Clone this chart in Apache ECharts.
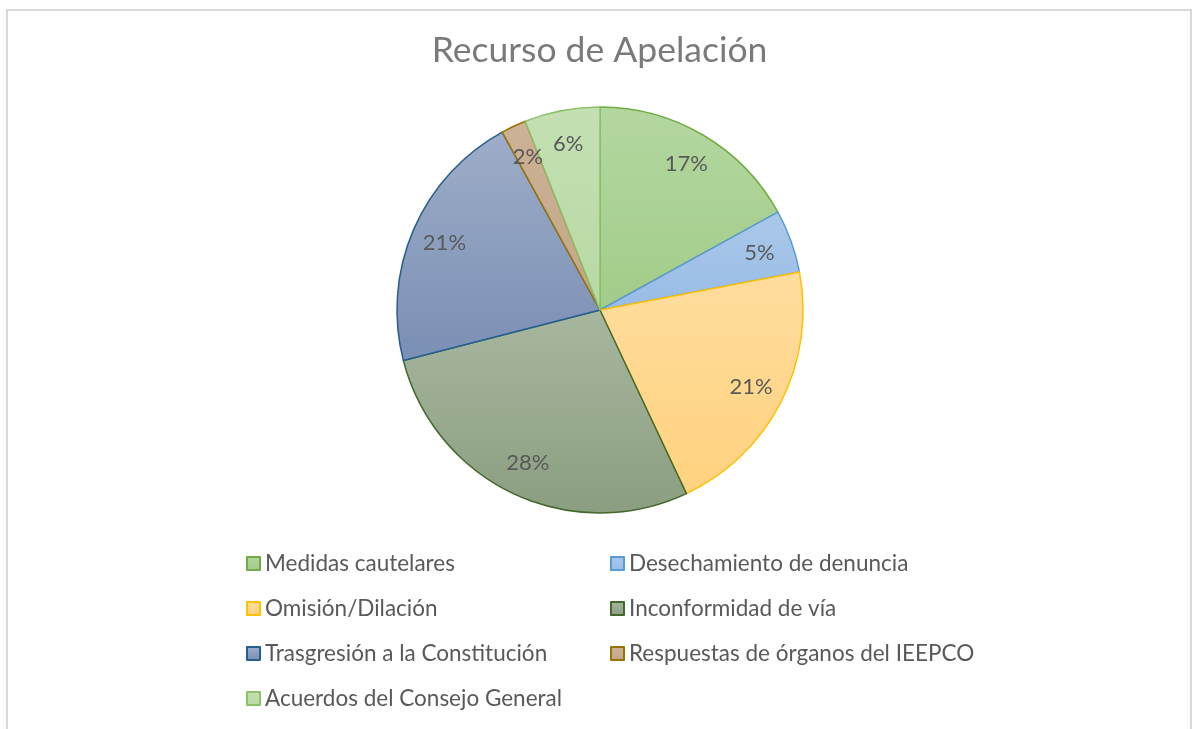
<!DOCTYPE html>
<html>
<head>
<meta charset="utf-8">
<script src="https://cdn.jsdelivr.net/npm/echarts@6/dist/echarts.min.js"></script>
<style>
html,body{margin:0;padding:0;background:#fff;}
#frame{position:absolute;left:6px;top:9px;width:1186px;height:740px;border:2px solid #d9d9d9;border-bottom:none;box-sizing:border-box;}
#chart{position:absolute;left:0;top:0;width:1199px;height:729px;}
</style>
</head>
<body>
<div id="frame"></div>
<div id="chart"></div>
<script>
const title = 'Recurso de Apelación';
const categories = ['Medidas cautelares','Desechamiento de denuncia','Omisión/Dilación','Inconformidad de vía','Trasgresión a la Constitución','Respuestas de órganos del IEEPCO','Acuerdos del Consejo General'];
const values = [17, 5, 21, 28, 21, 2, 6];
const legendLeft = ['Medidas cautelares','Omisión/Dilación','Trasgresión a la Constitución','Acuerdos del Consejo General'];
const legendRight = ['Desechamiento de denuncia','Inconformidad de vía','Respuestas de órganos del IEEPCO'];
const fillTop = ['#b4d7a0','#abc8ea','#ffdd9e','#a8b7a0','#9eadc8','#ccb296','#c4e0b3'];
const fillBottom = ['#a2cc89','#98bce6','#ffd27f','#8b9e80','#7a8fb4','#c3a688','#b8d9a4'];
const borders = ['#70ad47','#5b9bd5','#ffc000','#43682b','#255e91','#997300','#8cc269'];

const FONT = 'Lato';
const chart = echarts.init(document.getElementById('chart'), null, {renderer:'canvas'});
const data = categories.map((n,i)=>({
  name:n, value:values[i],
  itemStyle:{
    color:new echarts.graphic.LinearGradient(0,0,0,1,[{offset:0,color:fillTop[i]},{offset:1,color:fillBottom[i]}]),
    borderColor:borders[i], borderWidth:1.5
  }
}));
const legendCommon = {
  orient:'vertical', icon:'rect', itemWidth:13, itemHeight:13, itemGap:22, padding:0,
  textStyle:{fontFamily:FONT, fontSize:22.5, color:'#595959'},
  selectedMode:false
};
chart.setOption({
  animation:false,
  title:{text:title, left:'center', top:33, padding:0, textStyle:{fontFamily:FONT, fontSize:35.5, fontWeight:'normal', color:'#7a7a7a'}},
  legend:[
    Object.assign({}, legendCommon, {data:legendLeft, left:246, top:552}),
    Object.assign({}, legendCommon, {data:legendRight, left:610, top:552})
  ],
  series:[
    {
      type:'pie', center:[600,310], radius:[0,203], startAngle:90, clockwise:true,
      data:data, label:{show:false}, labelLine:{show:false}, emphasis:{disabled:true}
    },
    {
      type:'pie', center:[600,310], radius:[130,203], startAngle:90, clockwise:true, silent:true,
      data:categories.map((n,i)=>({name:n, value:values[i]})),
      itemStyle:{color:'rgba(0,0,0,0)', borderWidth:0},
      legendHoverLink:false,
      label:{show:true, position:'inside', formatter:'{d}%', fontFamily:FONT, fontSize:22, color:'#595959'},
      labelLine:{show:false}, emphasis:{disabled:true}
    }
  ]
});
</script>
</body>
</html>
